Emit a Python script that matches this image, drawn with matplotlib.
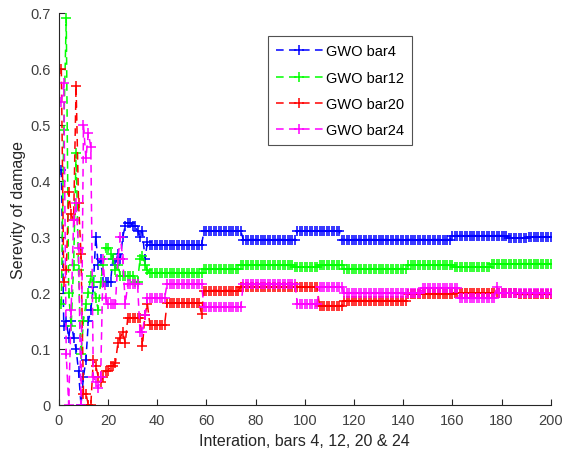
import numpy as np
import matplotlib.pyplot as plt

plt.rcParams['font.family'] = ['Liberation Sans', 'DejaVu Sans']

# first iterations read point by point, then (level, last iteration) steps
bar4_early = [0.42, 0.14, 0.15, 0.12, 0.15, 0.12, 0.10, 0.06, 0.00, 0.05,
              0.08, 0.15, 0.17, 0.21, 0.30, 0.25, 0.26, 0.22, 0.22, 0.22,
              0.22, 0.26, 0.25, 0.27, 0.26, 0.30, 0.32, 0.325, 0.325, 0.32,
              0.32, 0.31, 0.30, 0.31, 0.26, 0.29]
bar4_levels = [0.285, 0.31, 0.295, 0.31, 0.295, 0.302, 0.298, 0.300]
bar4_ends = [58, 74, 96, 114, 159, 182, 190, 200]

bar12_early = [0.18, 0.49, 0.69, 0.20, 0.14, 0.25, 0.45, 0.24, 0.09, 0.15,
               0.18, 0.20, 0.23, 0.22, 0.19, 0.17, 0.22, 0.25, 0.28, 0.28,
               0.27, 0.26, 0.24, 0.25, 0.23, 0.23, 0.23, 0.23, 0.23, 0.23,
               0.22, 0.22, 0.26, 0.265, 0.25, 0.24]
bar12_levels = [0.236, 0.242, 0.249, 0.246, 0.249, 0.243, 0.249, 0.246, 0.251, 0.252]
bar12_ends = [58, 73, 95, 105, 115, 141, 160, 175, 186, 200]

bar20_early = [0.60, 0.22, 0.24, 0.38, 0.34, 0.33, 0.57, 0.36, 0.27, 0.02,
               0.02, 0.00, 0.00, 0.08, 0.07, 0.05, 0.04, 0.05, 0.06, 0.06,
               0.07, 0.07, 0.075, 0.11, 0.12, 0.13, 0.11, 0.155, 0.155, 0.155,
               0.155, 0.155, 0.155, 0.105, 0.16, 0.18]
bar20_levels = [0.143, 0.182, 0.163, 0.204, 0.211, 0.21, 0.177, 0.186, 0.198, 0.2, 0.197]
bar20_ends = [43, 57, 58, 73, 96, 105, 115, 141, 160, 186, 200]

bar24_early = [0.54, 0.575, 0.09, 0.00, 0.17, 0.33, 0.36, 0.28, 0.00, 0.50,
               0.44, 0.485, 0.46, 0.05, 0.04, 0.03, 0.05, 0.26, 0.19, 0.18,
               0.18, 0.18, 0.18, 0.26, 0.30, 0.26, 0.18, 0.215, 0.215, 0.215,
               0.215, 0.215, 0.13, 0.13, 0.16, 0.19]
bar24_levels = [0.19, 0.216, 0.175, 0.216, 0.18, 0.21, 0.2, 0.209, 0.19, 0.21, 0.2]
bar24_ends = [43, 58, 74, 96, 105, 115, 147, 162, 177, 178, 200]

labels = ['GWO bar4', 'GWO bar12', 'GWO bar20', 'GWO bar24']
colors = ['#0000ff', '#00ff00', '#ff0000', '#ff00ff']


def build(early, levels, ends):
    runs = np.diff([len(early)] + ends)
    return np.concatenate([early, np.repeat(levels, runs)])


series = [build(bar4_early, bar4_levels, bar4_ends),
          build(bar12_early, bar12_levels, bar12_ends),
          build(bar20_early, bar20_levels, bar20_ends),
          build(bar24_early, bar24_levels, bar24_ends)]
iters = np.arange(1, 201)

fig = plt.figure(figsize=(5.66, 4.56), dpi=100)
ax = fig.add_axes([0.104, 0.11, 0.869, 0.86])

for y, c, lab in zip(series, colors, labels):
    ax.plot(iters, y, '--+', color=c, lw=1.1, ms=7, mew=1.1, label=lab,
            dashes=(5, 3.5))

ax.set_xlim(0, 200)
ax.set_ylim(0, 0.7)
ax.set_xticks(np.arange(0, 201, 20))
ax.set_yticks(np.arange(0, 0.71, 0.1))
ax.set_yticklabels(['0', '0.1', '0.2', '0.3', '0.4', '0.5', '0.6', '0.7'])
ax.spines['top'].set_visible(False)
ax.spines['right'].set_visible(False)
for s in ['left', 'bottom']:
    ax.spines[s].set_color('#262626')
    ax.spines[s].set_linewidth(0.8)
ax.tick_params(direction='in', length=4, labelsize=10.5, colors='#262626',
               labelcolor='#404040', width=0.8, pad=6)
ax.set_xlabel('Interation, bars 4, 12, 20 & 24', fontsize=11.5, color='#262626', labelpad=4)
ax.set_ylabel('Serevity of damage', fontsize=11.5, color='#262626', labelpad=3)

leg = ax.legend(loc='upper left', bbox_to_anchor=(0.425, 0.94), fontsize=10.5,
                frameon=True, fancybox=False, edgecolor='#262626',
                handlelength=3.2, borderpad=0.55, labelspacing=0.85,
                handletextpad=0.2, borderaxespad=0)
leg.get_frame().set_linewidth(0.8)

fig.savefig('out.png', dpi=100)
